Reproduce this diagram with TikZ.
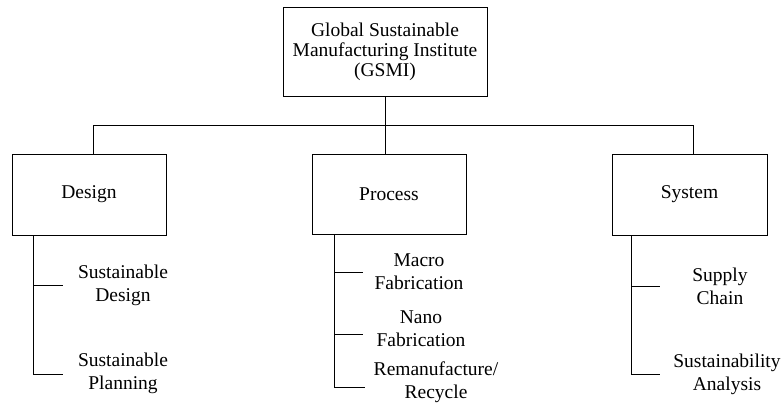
\documentclass[tikz,border=0pt]{standalone}
\usepackage{fontspec}
\setmainfont{Liberation Serif}
\begin{document}
\begin{tikzpicture}[x=1pt,y=-1pt,
  line width=0.9pt,
  boxnode/.style={draw, rectangle, inner sep=0pt, align=center, font=\fontsize{19.5}{20}\selectfont},
  leaf/.style={inner sep=0pt, align=center, font=\fontsize{19.5}{23}\selectfont}]
\useasboundingbox (0,0) rectangle (784,402);
% main boxes
\node[boxnode, minimum width=204pt, minimum height=89pt] (gsmi) at (385,51.5) {Global Sustainable\\Manufacturing Institute\\(GSMI)};
\node[boxnode, minimum width=154pt, minimum height=81pt] (design) at (89,194.5) {\raisebox{-3pt}{Design}};
\node[boxnode, minimum width=154pt, minimum height=80pt] (process) at (389,194) {Process};
\node[boxnode, minimum width=155pt, minimum height=81pt] (system) at (689.5,194.5) {\raisebox{-3pt}{System}};
% bus
\coordinate (busL) at (93,125);
\coordinate (busR) at (693,125);
\draw (gsmi.south) -- (gsmi.south |- busL);
\draw (busL) -- (busR);
\draw (busL) -- (busL |- design.north);
\draw (busR) -- (busR |- system.north);
\draw (gsmi.south |- busL) -- (gsmi.south |- process.north);
% leaves
\node[leaf] (sd) at (123,285) {Sustainable\\Design};
\node[leaf] (sp) at (123,373.5) {Sustainable\\Planning};
\node[leaf] (mf) at (419,271.5) {Macro\\Fabrication};
\node[leaf] (nf) at (421,329) {Nano\\Fabrication};
\node[leaf] (rr) at (436,382) {Remanufacture/\\Recycle};
\node[leaf] (sc) at (720,286) {Supply\\Chain};
\node[leaf] (sa) at (727,374) {Sustainability\\Analysis};
% design branch
\coordinate (dtop) at (33,235);
\coordinate (d1) at (33,285);
\coordinate (d1e) at (63,285);
\coordinate (d2) at (33,374);
\coordinate (d2e) at (63,374);
\draw (dtop) -- (d2) -- (d2e);
\draw (d1) -- (d1e);
% process branch
\coordinate (ptop) at (334,234);
\coordinate (p1) at (334,272);
\coordinate (p1e) at (363,272);
\coordinate (p2) at (334,334);
\coordinate (p2e) at (363,334);
\coordinate (p3) at (334,387);
\coordinate (p3e) at (365,387);
\draw (ptop) -- (p3) -- (p3e);
\draw (p1) -- (p1e);
\draw (p2) -- (p2e);
% system branch
\coordinate (stop) at (631,235);
\coordinate (s1) at (631,286);
\coordinate (s1e) at (660,286);
\coordinate (s2) at (631,374);
\coordinate (s2e) at (660,374);
\draw (stop) -- (s2) -- (s2e);
\draw (s1) -- (s1e);
\end{tikzpicture}
\end{document}
